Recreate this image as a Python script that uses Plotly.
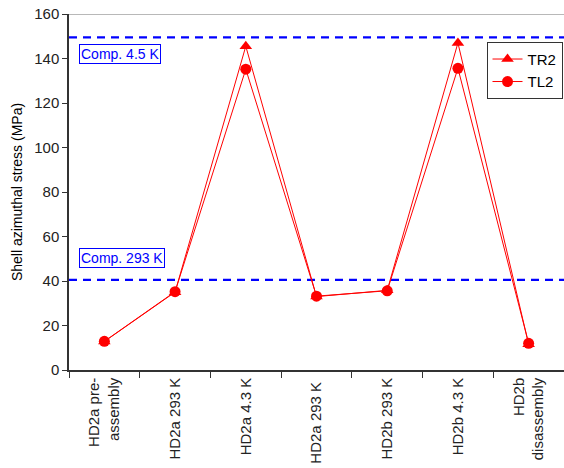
import plotly.graph_objects as go

stages = ["HD2a pre-<br>assembly", "HD2a 293 K", "HD2a 4.3 K", "HD2a 293 K ",
          "HD2b 293 K", "HD2b 4.3 K", "HD2b<br>disassembly"]
tr2 = [12.8, 35.0, 145.5, 33.0, 35.8, 147.0, 11.6]
tl2 = [12.9, 35.2, 135.2, 33.2, 35.6, 135.6, 12.0]
comp_levels = [149.5, 40.5]
comp_labels = ["Comp. 4.5 K", "Comp. 293 K"]
# label boxes: below the 4.5 K line, above the 293 K line
label_y = [146.5, 45.8]
label_anchor = ["top", "bottom"]

font = "Liberation Sans, Arial, sans-serif"
red = "#ff0000"
blue = "#0000ff"

fig = go.Figure()
fig.add_trace(go.Scatter(x=stages, y=tr2, name="TR2", mode="lines+markers",
                         line=dict(color=red, width=1),
                         marker=dict(symbol="triangle-up", size=11, color=red)))
fig.add_trace(go.Scatter(x=stages, y=tl2, name="TL2", mode="lines+markers",
                         line=dict(color=red, width=1),
                         marker=dict(symbol="circle", size=11, color=red)))

# compensation reference levels
for lvl, lab, ly, anc in zip(comp_levels, comp_labels, label_y, label_anchor):
    fig.add_shape(type="line", xref="paper", x0=0, x1=1, yref="y", y0=lvl, y1=lvl,
                  line=dict(color=blue, width=2.2, dash="8px,6px"), layer="below")
    fig.add_annotation(xref="paper", x=0.02, xanchor="left", yref="y", y=ly,
                       yanchor=anc, text=lab, showarrow=False,
                       font=dict(family=font, size=14, color=blue),
                       bordercolor=blue, borderwidth=1, borderpad=1,
                       bgcolor="white")

# top frame line
fig.add_shape(type="line", xref="paper", x0=0, x1=1, yref="y", y0=160, y1=160,
              line=dict(color="#a0a0a0", width=1.5))

fig.update_layout(
    width=564, height=468,
    margin=dict(l=69, r=0, t=14, b=98, autoexpand=False),
    paper_bgcolor="white", plot_bgcolor="white",
    font=dict(family=font, size=13, color="black"),
    showlegend=True,
    legend=dict(x=0.997, y=0.922, xanchor="right", yanchor="top",
                bordercolor="#333333", borderwidth=1, bgcolor="white",
                font=dict(family=font, size=15), tracegroupgap=0,
                itemwidth=30),
    xaxis=dict(type="category", tickson="boundaries", ticks="outside", ticklen=6,
               tickcolor="#333333", showline=True, linecolor="#333333", linewidth=1.5,
               tickangle=-90, showgrid=False, range=[-0.5, 6.5], automargin=False,
               tickfont=dict(family=font, size=15, color="#222222")),
    yaxis=dict(range=[0, 160], dtick=20, ticks="outside", ticklen=5,
               tickcolor="#333333", showline=True, linecolor="#333333", linewidth=1.5,
               showgrid=False, zeroline=False, automargin=False,
               tickfont=dict(family=font, size=15, color="#222222"),
               title=dict(text="Shell azimuthal stress (MPa)",
                          font=dict(family=font, size=14), standoff=8)),
)

fig.write_html("out.html")
